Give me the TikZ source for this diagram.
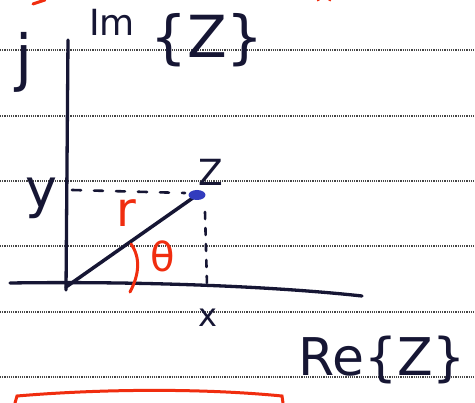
\documentclass[tikz,border=0pt]{standalone}
\usepackage{fontspec}
\setmainfont{DejaVu Sans}
\definecolor{inkc}{RGB}{22,22,52}
\definecolor{redc}{RGB}{240,45,15}
\definecolor{rulec}{RGB}{70,70,70}
\definecolor{dotc}{RGB}{50,60,190}
\begin{document}
\begin{tikzpicture}[x=1pt,y=-1pt,
  ink/.style={draw=inkc, line width=3.3pt, line cap=round},
  thinink/.style={draw=inkc, line width=2.6pt, line cap=round},
  redline/.style={draw=redc, line width=3pt, line cap=round},
  ruled/.style={draw=rulec, line width=1.8pt, dash pattern=on 1.3pt off 0.9pt},
  lab/.style={text=inkc, inner sep=0pt},
  redlab/.style={text=redc, inner sep=0pt}]
\useasboundingbox (0,0) rectangle (475,403);
\fill[white] (0,0) rectangle (475,403);
% notebook rules
\foreach \yy in {50,116,181,246,312,377}
  \draw[ruled] (0,\yy) -- (475,\yy);
% points
\coordinate (O) at (66,287);
\coordinate (Z) at (197,195);
\coordinate (Ytop) at (68,40);
\coordinate (Ybot) at (66,290);
\coordinate (Xl) at (10,283);
\coordinate (Xr) at (362,296);
\coordinate (Yp) at (72,190);
\coordinate (Yq) at (185,193);
\coordinate (Xq) at (205,212);
\coordinate (Xp) at (207,285);
% axes
\draw[ink] (Ytop) -- (Ybot);
\draw[ink] (Xl) .. controls (150,281) and (280,287) .. (Xr);
% projections
\draw[thinink, dash pattern=on 9pt off 13pt] (Yp) -- (Yq);
\draw[thinink, dash pattern=on 7pt off 9pt] (Xq) -- (Xp);
% radius vector and point
\draw[ink, line width=3.5pt] (O) -- (Z);
\fill[dotc] (Z) ellipse (8.5 and 5);
% angle arc
\draw[redline] (131,244) .. controls (141,258) and (139,275) .. (130,292);
% labels
\node[lab, font=\fontsize{62}{62}\selectfont] (j) at (24,62) {j};
\node[lab, font=\fontsize{36}{36}\selectfont] (im) at (112,22) {Im};
\node[lab, font=\fontsize{58}{58}\selectfont] (imz) at (207,40) {\{Z\}};
\node[lab, font=\fontsize{54}{54}\selectfont] (ylab) at (41,198) {y};
\node[lab, font=\fontsize{36}{36}\selectfont] (zlab) at (211,172) {Z};
\node[lab, font=\fontsize{32}{32}\selectfont] (xlab) at (208,318) {x};
\node[lab, font=\fontsize{52}{52}\selectfont] (re) at (382,360) {Re\{Z\}};
\node[redlab, font=\fontsize{48}{48}\selectfont] (r) at (126,213) {r};
\node[redlab, font=\fontsize{40}{40}\selectfont] (th) at (163,256) {θ};
% red fragments at edges
\draw[redline] (33,4) -- (45,0);
\draw[redline] (318,0) arc (180:360:6 and 5);
\draw[redline] (15,403) -- (17,396) .. controls (100,389) and (200,388) .. (282,396) -- (283,403);
\end{tikzpicture}
\end{document}
